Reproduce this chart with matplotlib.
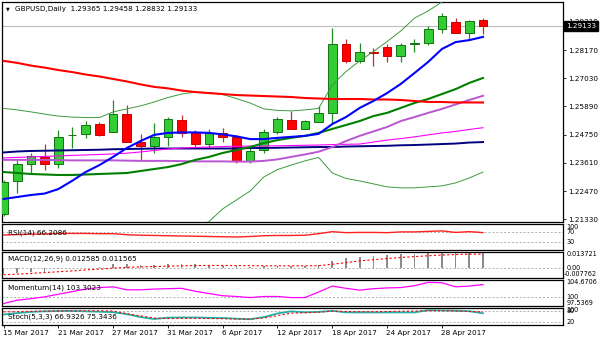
import numpy as np
import matplotlib.pyplot as plt
from matplotlib.transforms import blended_transform_factory

W, H = 600, 343

# daily candles, 15 Mar 2017 .. 3 May 2017
opens = [1.21544, 1.22878, 1.23564, 1.23847, 1.23564, 1.24716, 1.24776, 1.25180, 1.24869, 1.25572,
         1.24453, 1.24292, 1.24643, 1.25342, 1.24805, 1.24360, 1.24805, 1.24667, 1.23686, 1.24130,
         1.24869, 1.25342, 1.24978, 1.25249, 1.25637, 1.28400, 1.27726, 1.28101, 1.28303, 1.27928,
         1.28420, 1.28441, 1.29018, 1.29289, 1.28845, 1.29365]
highs = [1.22918, 1.23726, 1.24009, 1.24372, 1.24938, 1.25059, 1.25302, 1.25261, 1.26150, 1.25948,
         1.24776, 1.25221, 1.25475, 1.25544, 1.24938, 1.24966, 1.25031, 1.24736, 1.24263, 1.24966,
         1.25475, 1.25706, 1.25342, 1.25908, 1.29047, 1.28614, 1.28465, 1.28263, 1.28400, 1.28465,
         1.28614, 1.29140, 1.29653, 1.29475, 1.29382, 1.29458]
lows = [1.21464, 1.22393, 1.23201, 1.23322, 1.23403, 1.24211, 1.24615, 1.24696, 1.24857, 1.24453,
        1.23726, 1.24009, 1.24292, 1.24643, 1.24199, 1.24223, 1.24465, 1.23617, 1.23617, 1.23997,
        1.24776, 1.24958, 1.24958, 1.25249, 1.25209, 1.27657, 1.27657, 1.27536, 1.27697, 1.27697,
        1.28077, 1.28372, 1.28845, 1.28845, 1.28574, 1.28832]
closes = [1.22837, 1.23564, 1.23888, 1.23564, 1.24655, 1.24736, 1.25140, 1.24736, 1.25572, 1.24465,
          1.24292, 1.24643, 1.25370, 1.24829, 1.24360, 1.24805, 1.24643, 1.23698, 1.24102, 1.24869,
          1.25370, 1.24978, 1.25314, 1.25613, 1.28412, 1.27726, 1.28101, 1.28037, 1.27928, 1.28372,
          1.28441, 1.29018, 1.29544, 1.28845, 1.29342, 1.29133]

# moving averages
ma_red = [1.2773, 1.2765, 1.2754, 1.2746, 1.2736, 1.2728, 1.2718, 1.2710, 1.2700, 1.2690,
          1.2678, 1.2668, 1.2662, 1.2653, 1.2647, 1.2643, 1.2639, 1.2635, 1.2633, 1.2631,
          1.2629, 1.2627, 1.2623, 1.2621, 1.2619, 1.2619, 1.2619, 1.2617, 1.2617, 1.2615,
          1.2611, 1.2607, 1.2607, 1.2605, 1.2605, 1.2605]
ma_blue = [1.2215, 1.2223, 1.2231, 1.2237, 1.2255, 1.2288, 1.2324, 1.2352, 1.2385, 1.2421,
           1.2449, 1.2474, 1.2482, 1.2484, 1.2484, 1.2482, 1.2476, 1.2468, 1.2457, 1.2457,
           1.2462, 1.2466, 1.2470, 1.2478, 1.2518, 1.2546, 1.2583, 1.2611, 1.2643, 1.2680,
           1.2724, 1.2769, 1.2821, 1.2849, 1.2857, 1.2870]
ma_navy = [1.2403, 1.2407, 1.2409, 1.2410, 1.2411, 1.2412, 1.2413, 1.2414, 1.2416, 1.2417,
           1.2418, 1.2419, 1.2419, 1.2419, 1.2419, 1.2419, 1.2419, 1.2419, 1.2421, 1.2421,
           1.2422, 1.2423, 1.2424, 1.2425, 1.2425, 1.2427, 1.2428, 1.2429, 1.2430, 1.2432,
           1.2433, 1.2435, 1.2437, 1.2439, 1.2443, 1.2445]
ma_pink = [1.2381, 1.2383, 1.2385, 1.2387, 1.2389, 1.2391, 1.2393, 1.2395, 1.2397, 1.2400,
           1.2405, 1.2411, 1.2417, 1.2421, 1.2423, 1.2425, 1.2427, 1.2428, 1.2429, 1.2429,
           1.2430, 1.2431, 1.2432, 1.2433, 1.2435, 1.2436, 1.2437, 1.2445, 1.2453, 1.2459,
           1.2466, 1.2474, 1.2482, 1.2488, 1.2496, 1.2503]
ma_violet = [1.2373, 1.2373, 1.2373, 1.2373, 1.2372, 1.2371, 1.2371, 1.2371, 1.2371, 1.2370,
             1.2369, 1.2369, 1.2369, 1.2368, 1.2367, 1.2367, 1.2367, 1.2366, 1.2366, 1.2369,
             1.2375, 1.2385, 1.2395, 1.2406, 1.2425, 1.2449, 1.2470, 1.2488, 1.2506, 1.2530,
             1.2546, 1.2563, 1.2579, 1.2597, 1.2615, 1.2632]

# bollinger bands (mid = dark green)
bb_mid = [1.2324, 1.2320, 1.2316, 1.2314, 1.2312, 1.2312, 1.2314, 1.2316, 1.2318, 1.2320,
          1.2328, 1.2336, 1.2344, 1.2356, 1.2373, 1.2385, 1.2401, 1.2413, 1.2425, 1.2441,
          1.2453, 1.2462, 1.2470, 1.2482, 1.2498, 1.2514, 1.2530, 1.2550, 1.2563, 1.2583,
          1.2603, 1.2619, 1.2639, 1.2659, 1.2684, 1.2704]
bb_upper = [1.2581, 1.2575, 1.2567, 1.2558, 1.2550, 1.2546, 1.2544, 1.2544, 1.2567, 1.2579,
            1.2591, 1.2607, 1.2625, 1.2639, 1.2647, 1.2645, 1.2637, 1.2621, 1.2603, 1.2579,
            1.2573, 1.2571, 1.2575, 1.2581, 1.2676, 1.2730, 1.2773, 1.2811, 1.2851, 1.2894,
            1.2946, 1.2975, 1.3011, 1.3039, 1.3068, 1.3084]
bb_lower = [1.2068, 1.2066, 1.2066, 1.2070, 1.2074, 1.2078, 1.2084, 1.2088, 1.2070, 1.2062,
            1.2066, 1.2066, 1.2064, 1.2074, 1.2098, 1.2124, 1.2175, 1.2211, 1.2247, 1.2304,
            1.2334, 1.2352, 1.2369, 1.2383, 1.2320, 1.2298, 1.2288, 1.2276, 1.2264, 1.2260,
            1.2260, 1.2264, 1.2268, 1.2280, 1.2300, 1.2324]

rsi = [57, 58.5, 60, 61, 63, 63, 63, 62, 62, 58, 56, 55, 54, 53, 52, 51, 50, 49, 51, 54,
       55, 55, 56, 62, 70, 66, 67, 67, 66, 69, 69, 71, 73, 67, 70, 66.2]
macd_main = [-0.005, -0.004, -0.0035, -0.003, -0.001, 0.0, 0.0005, 0.001, 0.0033, 0.003,
             0.0025, 0.0025, 0.003, 0.0035, 0.003, 0.002, 0.002, 0.0015, 0.001, 0.0015,
             0.002, 0.0015, 0.002, 0.0025, 0.0058, 0.008, 0.0095, 0.0104, 0.011, 0.0117,
             0.012, 0.0126, 0.0132, 0.0131, 0.013, 0.012585]
macd_signal = [-0.0055, -0.005, -0.0044, -0.0037, -0.003, -0.0023, -0.0015, -0.0008, 0.0, 0.0006,
               0.001, 0.0013, 0.0016, 0.0019, 0.0021, 0.0022, 0.0022, 0.0021, 0.002, 0.0019,
               0.0019, 0.0019, 0.0019, 0.002, 0.0032, 0.0045, 0.006, 0.007, 0.0079, 0.0088,
               0.0095, 0.0102, 0.0108, 0.0112, 0.0115, 0.011565]
momentum = [98.2, 99.1, 99.5, 100.0, 100.7, 101.4, 102.1, 102.5, 102.7, 101.9,
            101.9, 102.1, 102.2, 102.3, 101.5, 100.9, 100.3, 100.1, 99.8, 100.1,
            100.1, 99.8, 99.8, 101.3, 102.9, 102.3, 101.8, 102.2, 102.4, 102.5,
            103.0, 103.9, 103.8, 102.7, 102.9, 103.3]
stoch_main = [60, 68, 75, 78, 80, 80, 78, 76, 73, 62, 45, 34, 42, 43, 43, 41, 40, 36, 33, 45,
              66, 78, 73, 75, 81, 72, 72, 72, 72, 72, 72, 85, 83, 82, 79, 66.9]
stoch_signal = [75, 76, 78, 79, 80, 81, 81, 81, 80, 65, 52, 40, 37, 38, 38, 37, 36, 34, 34, 40,
                54, 68, 70, 73, 79, 77, 76, 76, 77, 79, 80, 81, 82, 80, 77, 75.3]

date_labels = ['15 Mar 2017', '21 Mar 2017', '27 Mar 2017', '31 Mar 2017', '6 Apr 2017',
               '12 Apr 2017', '18 Apr 2017', '24 Apr 2017', '28 Apr 2017']
date_bars = [0, 4, 8, 12, 16, 20, 24, 28, 32]
price_ticks = [1.21330, 1.22470, 1.23610, 1.24750, 1.25890, 1.27030, 1.28170, 1.29310]
last_price = 1.29133

FS = 5.2
FS_SMALL = 4.7
plt.rcParams['font.family'] = 'DejaVu Sans'

fig = plt.figure(figsize=(W / 100, H / 100), dpi=100)


def px_axes(x0, y0, x1, y1):
    ax = fig.add_axes([x0 / W, 1 - y1 / H, (x1 - x0) / W, (y1 - y0) / H])
    ax.set_xlim(-0.11, 40.84)
    ax.set_xticks([])
    for s in ax.spines.values():
        s.set_linewidth(0.9)
        s.set_color('black')
    return ax


def level(ax, v):
    ax.axhline(v, color='#B0B0B0', lw=0.7, ls=(0, (2, 2)), zorder=1)


def rlabel(ax, v, s, va='center', x=1.006):
    tr = blended_transform_factory(ax.transAxes, ax.transData)
    ax.text(x, v, s, transform=tr, ha='left', va=va, fontsize=FS_SMALL, clip_on=False)


idx = np.arange(len(opens))
o = np.array(opens); c = np.array(closes)
up = c >= o

# ---- main price panel
ax = px_axes(2, 2, 563, 222)
ax.set_ylim(1.2122, 1.3011)
ax.axhline(last_price, color='#C0C0C0', lw=0.9, zorder=1)

wick_col = np.where(up, '#1f8f1f', '#c03030')
ax.vlines(idx, lows, highs, colors=wick_col, lw=0.9, zorder=2)
ax.bar(idx, np.maximum(np.abs(c - o), 1e-5), bottom=np.minimum(o, c), width=0.64,
       color=np.where(up, '#32CD32', '#FF0000'), edgecolor=np.where(up, '#157015', '#cc0000'),
       lw=0.7, zorder=3)

ax.plot(idx, bb_upper, color='#3d9a3d', lw=0.7, zorder=4)
ax.plot(idx, bb_lower, color='#3d9a3d', lw=0.7, zorder=4)
ax.plot(idx, ma_navy, color='#000080', lw=1.4, zorder=4)
ax.plot(idx, ma_pink, color='#FF00FF', lw=0.8, zorder=4)
ax.plot(idx, ma_violet, color='#BA55D3', lw=1.4, zorder=4)
ax.plot(idx, bb_mid, color='#008000', lw=1.5, zorder=5)
ax.plot(idx, ma_red, color='#FF0000', lw=1.5, zorder=5)
ax.plot(idx, ma_blue, color='#0000FF', lw=1.5, zorder=5)

ax.yaxis.tick_right()
ax.set_yticks(price_ticks)
ax.set_yticklabels(['%.5f' % t for t in price_ticks])
ax.tick_params(axis='y', length=2.5, width=0.6, pad=1.5, labelsize=FS)
tr = blended_transform_factory(ax.transAxes, ax.transData)
ax.text(1.005, last_price, '%.5f' % last_price, transform=tr, ha='left', va='center',
        fontsize=FS, color='white', zorder=10,
        bbox=dict(boxstyle='square,pad=0.25', fc='black', ec='black'))

fig.text(6 / W, 1 - 9 / H, '\u25bc', fontsize=3.5, va='center')
fig.text(15 / W, 1 - 9 / H, 'GBPUSD,Daily  1.29365 1.29458 1.28832 1.29133',
         fontsize=FS, va='center')

# ---- RSI
ax_rsi = px_axes(2, 224, 563, 249.5)
ax_rsi.set_ylim(0, 100)
ax_rsi.set_yticks([])
level(ax_rsi, 70); level(ax_rsi, 30)
ax_rsi.plot(idx, rsi, color='#FF2020', lw=1.0)
rlabel(ax_rsi, 100, '100', 'top'); rlabel(ax_rsi, 70, '70'); rlabel(ax_rsi, 30, '30')
ax_rsi.text(6 / 561, 0.66, 'RSI(14) 66.2086', transform=ax_rsi.transAxes, fontsize=FS, va='center')

# ---- MACD
ax_macd = px_axes(2, 251.5, 563, 277.5)
ax_macd.set_ylim(-0.007762, 0.013721)
ax_macd.set_yticks([])
level(ax_macd, 0)
ax_macd.bar(idx, macd_main, width=0.13, color='#8c8c8c')
ax_macd.plot(idx, macd_signal, color='#FF0000', lw=0.8, ls=(0, (2, 2)))
rlabel(ax_macd, 0.013721, '0.013721', 'top'); rlabel(ax_macd, 0, '0.00')
rlabel(ax_macd, -0.007762, '-0.007762', 'bottom', x=1.002)
ax_macd.text(6 / 561, 0.72, 'MACD(12,26,9) 0.012585 0.011565', transform=ax_macd.transAxes,
             fontsize=FS, va='center')

# ---- Momentum
ax_mom = px_axes(2, 279.5, 563, 306)
ax_mom.set_ylim(97.5369, 104.6706)
ax_mom.set_yticks([])
level(ax_mom, 100)
ax_mom.plot(idx, momentum, color='#FF00FF', lw=0.9)
rlabel(ax_mom, 104.6706, '104.6706', 'top'); rlabel(ax_mom, 100, '100')
rlabel(ax_mom, 97.5369, '97.5369', 'bottom')
ax_mom.text(6 / 561, 0.7, 'Momentum(14) 103.3023', transform=ax_mom.transAxes,
            fontsize=FS, va='center')

# ---- Stochastic
ax_st = px_axes(2, 307.5, 563, 325)
ax_st.set_ylim(0, 100)
ax_st.set_yticks([])
level(ax_st, 80); level(ax_st, 20)
ax_st.plot(idx, stoch_main, color='#20B2AA', lw=1.3)
ax_st.plot(idx, stoch_signal, color='#FF0000', lw=0.8, ls=(0, (2, 2)))
rlabel(ax_st, 100, '100', 'top'); rlabel(ax_st, 80, '80'); rlabel(ax_st, 20, '20')
ax_st.text(6 / 561, 0.5, 'Stoch(5,3,3) 66.9326 75.3436', transform=ax_st.transAxes,
           fontsize=FS, va='center')

ax_st.set_xticks(date_bars)
ax_st.tick_params(axis='x', length=2.5, width=0.6, labelbottom=False)
trd = blended_transform_factory(ax_st.transData, ax_st.transAxes)
for b, lab in zip(date_bars, date_labels):
    ax_st.text(b - 0.05, -0.45, lab, transform=trd, ha='left', va='center', fontsize=FS)

fig.savefig('out.png', dpi=100)
